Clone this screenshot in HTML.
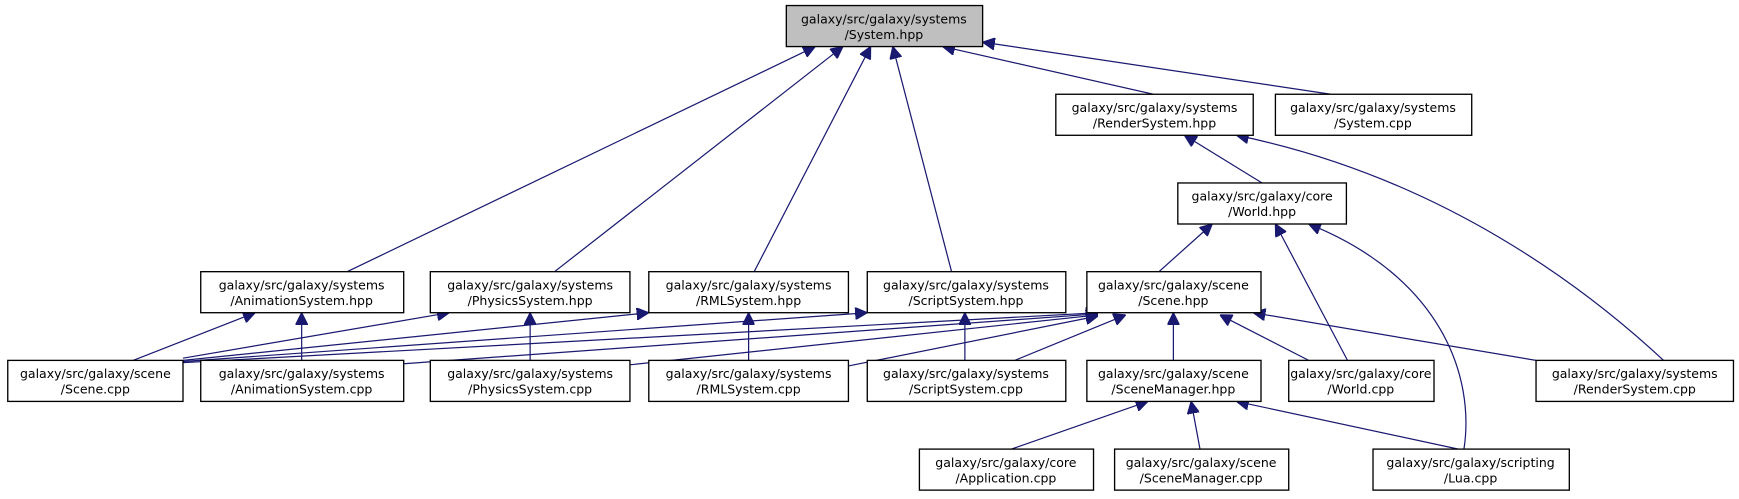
<!DOCTYPE html>
<html><head><meta charset="utf-8"><style>
html,body{margin:0;padding:0;background:#fff;}
svg{display:block}
text{font-family:"DejaVu Sans","Liberation Sans",sans-serif;font-size:11.3px;fill:#000;text-anchor:middle}
.b{fill:#fff;stroke:#000;stroke-width:1.2}
.e{stroke:#191970;stroke-width:1.1;fill:none;marker-end:url(#a)}
</style></head><body>
<svg width="1739" height="499" viewBox="0 0 1568 450" preserveAspectRatio="none" xmlns="http://www.w3.org/2000/svg">
<defs><marker id="a" viewBox="0 0 10 10" refX="10" refY="5" markerWidth="11" markerHeight="11" markerUnits="userSpaceOnUse" orient="auto"><path d="M0,0 L10,5 L0,10 z" fill="#191970" stroke="#191970"/></marker></defs>

<!-- edges -->
<path class="e" d="M313,245 L735,42"/>
<path class="e" d="M500,245 L760,42"/>
<path class="e" d="M680,245 L785,42"/>
<path class="e" d="M858,245 L805,42"/>
<path class="e" d="M1040,85 L850,42"/>
<path class="e" d="M1200,85 L886,38"/>
<path class="e" d="M1138,165 L1068,122"/>
<path class="e" d="M1500,325 C1430,260 1300,160 1115,122"/>
<path class="e" d="M1045,245 L1093,202"/>
<path class="e" d="M1215,325 L1150,202"/>
<path class="e" d="M1320,405 C1330,340 1300,250 1180,202"/>
<path class="e" d="M120,325 L230,282"/>
<path class="e" d="M272,325 L272,282"/>
<path class="e" d="M165,323 L405,282"/>
<path class="e" d="M478,325 L478,282"/>
<path class="e" d="M165,325 L585,282"/>
<path class="e" d="M675,325 L675,282"/>
<path class="e" d="M165,326 L782,282"/>
<path class="e" d="M870,325 L870,282"/>
<path class="e" d="M165,327 L990,282"/>
<path class="e" d="M364,328 L990,283"/>
<path class="e" d="M568,329 L990,284"/>
<path class="e" d="M765,330 L990,285"/>
<path class="e" d="M915,325 L1015,284"/>
<path class="e" d="M1058,325 L1058,282"/>
<path class="e" d="M1180,325 L1100,284"/>
<path class="e" d="M1385,325 L1130,282"/>
<path class="e" d="M912,405 L1035,362"/>
<path class="e" d="M1082,405 L1074,362"/>
<path class="e" d="M1315,405 L1115,362"/>

<!-- nodes -->
<rect x="709" y="5" width="177" height="37" fill="#bfbfbf" stroke="#000" stroke-width="1.2"/>
<text x="797" y="21">galaxy/src/galaxy/systems</text><text x="797" y="35">/System.hpp</text>

<rect class="b" x="952" y="85" width="178" height="37"/>
<text x="1041" y="101">galaxy/src/galaxy/systems</text><text x="1041" y="115">/RenderSystem.hpp</text>

<rect class="b" x="1150" y="85" width="177" height="37"/>
<text x="1238" y="101">galaxy/src/galaxy/systems</text><text x="1238" y="115">/System.cpp</text>

<rect class="b" x="1062" y="165" width="152" height="37"/>
<text x="1138" y="181">galaxy/src/galaxy/core</text><text x="1138" y="195">/World.hpp</text>

<rect class="b" x="181" y="245" width="183" height="37"/>
<text x="272" y="261">galaxy/src/galaxy/systems</text><text x="272" y="275">/AnimationSystem.hpp</text>

<rect class="b" x="388" y="245" width="180" height="37"/>
<text x="478" y="261">galaxy/src/galaxy/systems</text><text x="478" y="275">/PhysicsSystem.hpp</text>

<rect class="b" x="585" y="245" width="180" height="37"/>
<text x="675" y="261">galaxy/src/galaxy/systems</text><text x="675" y="275">/RMLSystem.hpp</text>

<rect class="b" x="782" y="245" width="179" height="37"/>
<text x="871" y="261">galaxy/src/galaxy/systems</text><text x="871" y="275">/ScriptSystem.hpp</text>

<rect class="b" x="980" y="245" width="157" height="37"/>
<text x="1058" y="261">galaxy/src/galaxy/scene</text><text x="1058" y="275">/Scene.hpp</text>

<rect class="b" x="7" y="325" width="158" height="37"/>
<text x="86" y="341">galaxy/src/galaxy/scene</text><text x="86" y="355">/Scene.cpp</text>

<rect class="b" x="181" y="325" width="183" height="37"/>
<text x="272" y="341">galaxy/src/galaxy/systems</text><text x="272" y="355">/AnimationSystem.cpp</text>

<rect class="b" x="388" y="325" width="180" height="37"/>
<text x="478" y="341">galaxy/src/galaxy/systems</text><text x="478" y="355">/PhysicsSystem.cpp</text>

<rect class="b" x="585" y="325" width="180" height="37"/>
<text x="675" y="341">galaxy/src/galaxy/systems</text><text x="675" y="355">/RMLSystem.cpp</text>

<rect class="b" x="782" y="325" width="179" height="37"/>
<text x="871" y="341">galaxy/src/galaxy/systems</text><text x="871" y="355">/ScriptSystem.cpp</text>

<rect class="b" x="980" y="325" width="157" height="37"/>
<text x="1058" y="341">galaxy/src/galaxy/scene</text><text x="1058" y="355">/SceneManager.hpp</text>

<rect class="b" x="1162" y="325" width="131" height="37"/>
<text x="1227" y="341">galaxy/src/galaxy/core</text><text x="1227" y="355">/World.cpp</text>

<rect class="b" x="1385" y="325" width="178" height="37"/>
<text x="1474" y="341">galaxy/src/galaxy/systems</text><text x="1474" y="355">/RenderSystem.cpp</text>

<rect class="b" x="829" y="405" width="157" height="37"/>
<text x="907" y="421">galaxy/src/galaxy/core</text><text x="907" y="435">/Application.cpp</text>

<rect class="b" x="1005" y="405" width="157" height="37"/>
<text x="1083" y="421">galaxy/src/galaxy/scene</text><text x="1083" y="435">/SceneManager.cpp</text>

<rect class="b" x="1238" y="405" width="177" height="37"/>
<text x="1326" y="421">galaxy/src/galaxy/scripting</text><text x="1326" y="435">/Lua.cpp</text>
</svg>
</body></html>
